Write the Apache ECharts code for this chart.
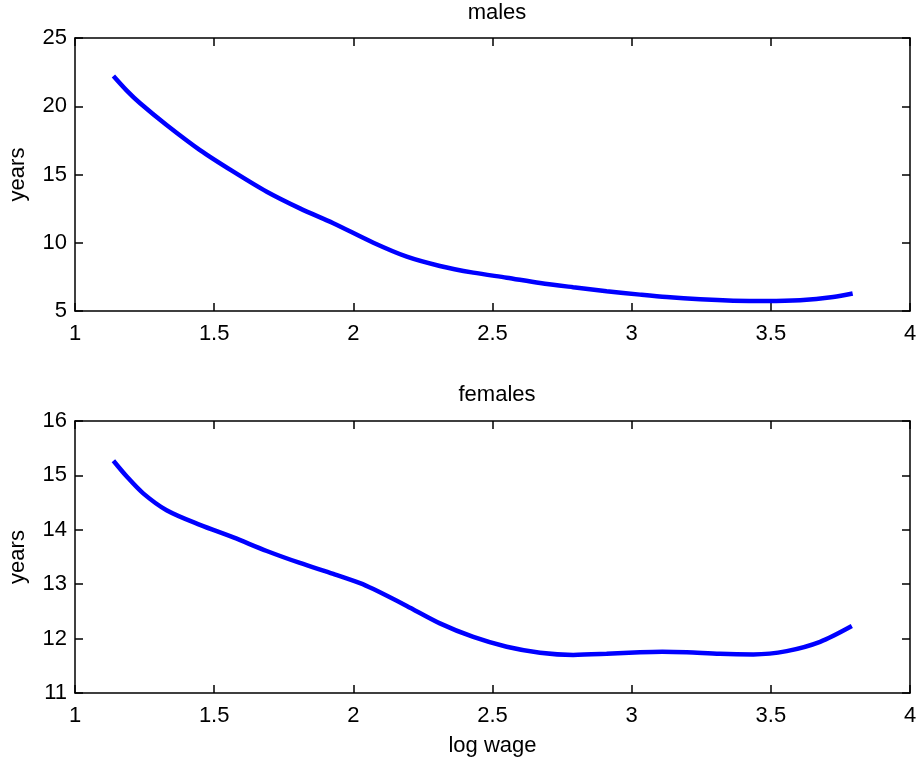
<!DOCTYPE html>
<html><head><meta charset="utf-8">
<script src="https://cdn.jsdelivr.net/npm/echarts@6/dist/echarts.min.js"></script>
<style>html,body{margin:0;padding:0;background:#fff}#c{width:919px;height:763px}</style>
</head><body><div id="c"></div>
<script>
const maleX = [1.138, 1.186, 1.234, 1.329, 1.449, 1.569, 1.689, 1.808, 1.928, 2.072, 2.192, 2.311, 2.431, 2.551, 2.671, 2.790, 2.910, 3.030, 3.126, 3.246, 3.365, 3.485, 3.605, 3.724, 3.794];
const maleY = [22.22, 21.15, 20.22, 18.63, 16.79, 15.21, 13.74, 12.52, 11.43, 10.0, 8.98, 8.30, 7.81, 7.44, 7.05, 6.74, 6.45, 6.20, 6.02, 5.86, 5.76, 5.73, 5.79, 6.02, 6.28];
const femaleX = [1.138, 1.186, 1.245, 1.329, 1.449, 1.569, 1.689, 1.808, 1.928, 2.024, 2.072, 2.192, 2.311, 2.431, 2.551, 2.671, 2.790, 2.910, 3.030, 3.110, 3.198, 3.317, 3.437, 3.557, 3.677, 3.791];
const femaleY = [15.27, 14.98, 14.67, 14.36, 14.09, 13.86, 13.61, 13.39, 13.19, 13.02, 12.91, 12.60, 12.28, 12.03, 11.85, 11.74, 11.70, 11.72, 11.75, 11.76, 11.75, 11.72, 11.71, 11.77, 11.94, 12.23];
const xTicks = [1, 1.5, 2, 2.5, 3, 3.5, 4];
const maleTicks = [5, 10, 15, 20, 25];
const femaleTicks = [11, 12, 13, 14, 15, 16];
const titles = ['males', 'females'];
const xName = 'log wage';
const yName = 'years';

const FONT = 'Liberation Sans';
const FS = 22;
const chart = echarts.init(document.getElementById('c'));
const lineStyle = {color: '#000', width: 1.5};
function xAxes(gi, showName) {
  return [{
    type: 'value', gridIndex: gi, min: xTicks[0], max: xTicks[xTicks.length-1], interval: 0.5,
    axisLine: {show: true, onZero: false, lineStyle},
    axisTick: {show: true, inside: true, length: 8, lineStyle},
    axisLabel: {show: true, margin: 12, color: '#000', fontFamily: FONT, fontSize: FS},
    splitLine: {show: false},
    name: showName ? xName : '', nameLocation: 'middle', nameGap: 42,
    nameTextStyle: {color: '#000', fontFamily: FONT, fontSize: FS}
  }, {
    type: 'value', gridIndex: gi, position: 'top', min: xTicks[0], max: xTicks[xTicks.length-1], interval: 0.5,
    axisLine: {show: true, onZero: false, lineStyle},
    axisTick: {show: true, inside: true, length: 8, lineStyle},
    axisLabel: {show: false}, splitLine: {show: false}
  }];
}
function yAxes(gi, ticks) {
  const mn = ticks[0], mx = ticks[ticks.length-1], iv = ticks[1]-ticks[0];
  return [{
    type: 'value', gridIndex: gi, min: mn, max: mx, interval: iv,
    axisLine: {show: true, onZero: false, lineStyle},
    axisTick: {show: true, inside: true, length: 8, lineStyle},
    axisLabel: {show: true, margin: 8, color: '#000', fontFamily: FONT, fontSize: FS},
    splitLine: {show: false},
    name: yName, nameLocation: 'middle', nameGap: 46, nameRotate: 90,
    nameTextStyle: {color: '#000', fontFamily: FONT, fontSize: FS}
  }, {
    type: 'value', gridIndex: gi, position: 'right', min: mn, max: mx, interval: iv,
    axisLine: {show: true, onZero: false, lineStyle},
    axisTick: {show: true, inside: true, length: 8, lineStyle},
    axisLabel: {show: false}, splitLine: {show: false}
  }];
}
chart.setOption({
  animation: false,
  backgroundColor: '#fff',
  title: [
    {text: titles[0], left: 492, top: -3, textAlign: 'center', textStyle: {color: '#000', fontFamily: FONT, fontSize: FS, fontWeight: 'normal'}},
    {text: titles[1], left: 492, top: 379, textAlign: 'center', textStyle: {color: '#000', fontFamily: FONT, fontSize: FS, fontWeight: 'normal'}}
  ],
  grid: [
    {left: 75, top: 38, width: 835, height: 273, outerBoundsMode: 'none', containLabel: false},
    {left: 75, top: 421, width: 835, height: 272, outerBoundsMode: 'none', containLabel: false}
  ],
  xAxis: [...xAxes(0, false), ...xAxes(1, true)],
  yAxis: [...yAxes(0, maleTicks), ...yAxes(1, femaleTicks)],
  series: [
    {type: 'line', xAxisIndex: 0, yAxisIndex: 0, data: maleX.map((x, i) => [x, maleY[i]]), smooth: 0.3, showSymbol: false, lineStyle: {color: '#0000ff', width: 4.5}},
    {type: 'line', xAxisIndex: 2, yAxisIndex: 2, data: femaleX.map((x, i) => [x, femaleY[i]]), smooth: 0.3, showSymbol: false, lineStyle: {color: '#0000ff', width: 4.5}}
  ]
});
</script></body></html>
